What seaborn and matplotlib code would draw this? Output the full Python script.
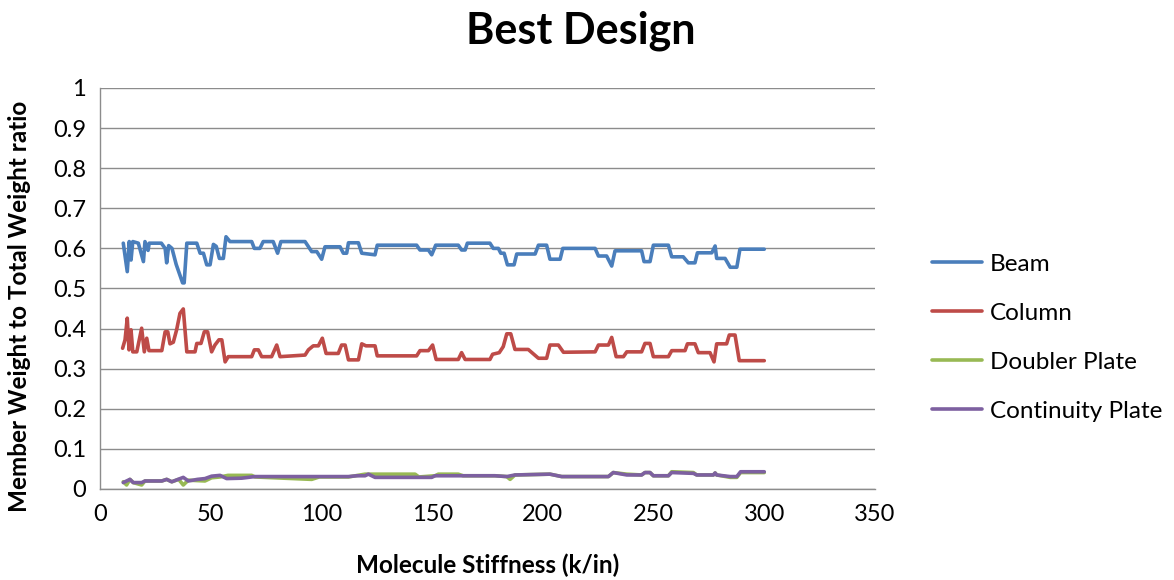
import pandas as pd
import numpy as np
import matplotlib
matplotlib.use("Agg")
import matplotlib.pyplot as plt
import seaborn as sns

# values
beam_x = [10.5, 12.3, 13.2, 14.0, 14.8, 17.3, 19.6, 20.3, 21.7, 22.2,
          27.7, 29.4, 30.1, 31.0, 32.5, 34.4, 37.3, 38.0, 39.2, 43.7,
          45.2, 46.7, 48.2, 49.7, 51.2, 52.5, 53.9, 55.7, 56.9, 58.7,
          68.5, 69.7, 72.2, 73.7, 78.2, 80.2, 81.7, 92.6, 95.6, 97.9,
          100.1, 101.6, 108.4, 109.9, 111.4, 112.2, 116.7, 118.2, 124.2, 125.2,
          143.0, 144.5, 148.3, 149.8, 151.6, 161.8, 163.3, 164.9, 165.9, 176.1,
          177.6, 179.9, 181.0, 182.5, 184.0, 187.0, 188.2, 196.5, 198.0, 201.7,
          203.2, 207.8, 209.0, 223.6, 225.1, 228.8, 231.1, 232.6, 244.6, 245.7,
          248.4, 249.9, 256.7, 258.2, 263.4, 265.7, 268.7, 269.8, 276.3, 277.8,
          278.5, 282.3, 284.6, 287.6, 289.0, 300.0]
beam_y = [0.613, 0.542, 0.617, 0.571, 0.617, 0.613, 0.567, 0.617, 0.595, 0.613,
          0.613, 0.600, 0.564, 0.607, 0.600, 0.560, 0.514, 0.514, 0.613, 0.613,
          0.588, 0.588, 0.559, 0.559, 0.610, 0.605, 0.575, 0.575, 0.629, 0.617,
          0.617, 0.600, 0.600, 0.617, 0.617, 0.588, 0.617, 0.617, 0.592, 0.592,
          0.573, 0.604, 0.604, 0.588, 0.588, 0.614, 0.614, 0.588, 0.584, 0.608,
          0.608, 0.596, 0.596, 0.584, 0.608, 0.608, 0.596, 0.596, 0.613, 0.613,
          0.600, 0.600, 0.588, 0.588, 0.559, 0.559, 0.586, 0.586, 0.608, 0.608,
          0.573, 0.573, 0.600, 0.600, 0.581, 0.581, 0.556, 0.594, 0.594, 0.567,
          0.567, 0.608, 0.608, 0.579, 0.579, 0.564, 0.564, 0.589, 0.589, 0.606,
          0.575, 0.575, 0.553, 0.553, 0.598, 0.598]

column_x = [10.2, 11.3, 12.3, 13.1, 14.0, 14.8, 16.6, 18.8, 20.0, 21.1,
            22.1, 27.9, 29.4, 30.6, 31.6, 33.1, 34.6, 36.1, 37.6, 39.2,
            42.9, 43.7, 45.6, 47.1, 48.6, 50.4, 51.9, 53.7, 55.0, 56.5,
            57.9, 68.5, 69.7, 71.5, 73.0, 77.5, 79.8, 81.3, 92.6, 94.1,
            96.3, 98.6, 100.4, 102.1, 107.6, 109.1, 110.7, 112.2, 116.7, 118.2,
            120.1, 124.2, 125.2, 143.0, 144.5, 148.3, 150.2, 151.8, 161.8, 163.3,
            164.9, 176.1, 177.3, 180.3, 182.1, 183.7, 185.5, 187.4, 193.4, 198.0,
            201.7, 203.2, 207.0, 209.3, 223.6, 225.1, 229.6, 231.1, 233.1, 236.4,
            237.9, 244.6, 246.1, 248.4, 249.9, 256.7, 258.2, 264.2, 265.3, 268.7,
            270.2, 275.5, 277.3, 278.5, 283.0, 284.2, 286.8, 288.7, 300.0]
column_y = [0.351, 0.372, 0.426, 0.347, 0.397, 0.342, 0.342, 0.401, 0.342, 0.376,
            0.345, 0.345, 0.392, 0.392, 0.362, 0.366, 0.397, 0.438, 0.449, 0.342,
            0.342, 0.363, 0.363, 0.392, 0.392, 0.342, 0.359, 0.372, 0.372, 0.317,
            0.330, 0.330, 0.347, 0.347, 0.330, 0.330, 0.359, 0.330, 0.334, 0.347,
            0.357, 0.357, 0.376, 0.338, 0.338, 0.359, 0.359, 0.322, 0.322, 0.362,
            0.357, 0.357, 0.332, 0.332, 0.345, 0.345, 0.359, 0.323, 0.323, 0.340,
            0.323, 0.323, 0.336, 0.340, 0.355, 0.387, 0.387, 0.348, 0.348, 0.326,
            0.326, 0.359, 0.359, 0.341, 0.342, 0.359, 0.359, 0.378, 0.330, 0.330,
            0.342, 0.342, 0.363, 0.363, 0.330, 0.330, 0.345, 0.345, 0.362, 0.362,
            0.340, 0.340, 0.317, 0.362, 0.362, 0.384, 0.384, 0.320, 0.320]

doubler_x = [10.5, 12.0, 13.5, 15.0, 18.8, 20.3, 27.9, 30.1, 32.4, 35.5,
             37.6, 39.9, 47.4, 50.4, 54.2, 57.8, 68.5, 70.0, 95.6, 99.0,
             112.2, 119.7, 142.3, 144.0, 151.3, 152.8, 161.8, 164.0, 178.4, 183.7,
             185.2, 187.4, 203.2, 208.5, 229.6, 231.8, 237.9, 244.6, 246.1, 248.4,
             249.9, 256.7, 258.2, 268.0, 269.5, 277.0, 277.8, 278.5, 284.6, 287.6,
             289.3, 300.0]
doubler_y = [0.018, 0.010, 0.024, 0.016, 0.010, 0.020, 0.020, 0.024, 0.018, 0.024,
             0.010, 0.022, 0.020, 0.028, 0.030, 0.034, 0.034, 0.030, 0.024, 0.030,
             0.030, 0.037, 0.037, 0.030, 0.033, 0.037, 0.037, 0.033, 0.033, 0.031,
             0.024, 0.035, 0.037, 0.031, 0.031, 0.041, 0.037, 0.035, 0.041, 0.041,
             0.033, 0.033, 0.043, 0.041, 0.035, 0.035, 0.040, 0.035, 0.029, 0.029,
             0.041, 0.041]

continuity_x = [10.5, 13.5, 15.0, 18.8, 20.3, 27.9, 30.1, 32.4, 37.6, 39.9,
                44.0, 47.4, 50.4, 54.2, 57.2, 64.0, 70.0, 95.6, 112.2, 116.0,
                119.7, 121.2, 124.2, 149.8, 151.3, 178.4, 183.7, 187.4, 203.2, 208.5,
                229.6, 231.8, 237.9, 244.6, 246.1, 248.4, 249.9, 256.7, 258.2, 268.0,
                269.5, 277.0, 277.8, 278.5, 284.6, 287.6, 289.3, 300.0]
continuity_y = [0.016, 0.024, 0.016, 0.016, 0.020, 0.020, 0.024, 0.018, 0.029, 0.020,
                0.024, 0.026, 0.032, 0.034, 0.026, 0.027, 0.031, 0.031, 0.031, 0.033,
                0.033, 0.037, 0.029, 0.029, 0.033, 0.033, 0.031, 0.035, 0.037, 0.031,
                0.031, 0.041, 0.035, 0.035, 0.041, 0.041, 0.033, 0.033, 0.041, 0.039,
                0.035, 0.035, 0.040, 0.035, 0.031, 0.031, 0.043, 0.043]

series = ["Beam", "Column", "Doubler Plate", "Continuity Plate"]
colors = ["#4A7EBB", "#BE4B48", "#98B954", "#7D60A0"]

frames = []
for name, xs, ys in zip(series,
                        [beam_x, column_x, doubler_x, continuity_x],
                        [beam_y, column_y, doubler_y, continuity_y]):
    frames.append(pd.DataFrame({"x": xs, "y": ys, "Member": name}))
df = pd.concat(frames, ignore_index=True)

sns.set_style("white")
plt.rcParams["font.family"] = ["Lato", "DejaVu Sans"]
plt.rcParams["text.color"] = "black"
plt.rcParams["axes.labelcolor"] = "black"

fig = plt.figure(figsize=(11.74, 5.8), dpi=100)
ax = fig.add_axes([0.0852, 0.1569, 0.6601, 0.6914])

sns.lineplot(data=df, x="x", y="y", hue="Member", palette=colors,
             hue_order=series, sort=False, estimator=None, linewidth=2.6, ax=ax)

ax.set_xlim(0, 350)
ax.set_ylim(0, 1)
ax.set_xticks(np.arange(0, 351, 50))
yt = np.round(np.arange(0, 1.01, 0.1), 1)
ax.set_yticks(yt)
ax.set_yticklabels([f"{v:g}" for v in yt])
ax.yaxis.grid(True, color="#8c8c8c", linewidth=1.0)
ax.set_axisbelow(True)
for s in ["top", "right"]:
    ax.spines[s].set_visible(False)
for s in ["left", "bottom"]:
    ax.spines[s].set_color("#8c8c8c")
    ax.spines[s].set_linewidth(1.0)
ax.tick_params(axis="both", which="major", length=6, width=1.0, color="#8c8c8c",
               labelcolor="black", labelsize=17, direction="out", pad=4)
ax.tick_params(axis="x", pad=5)

ax.set_xlabel("Molecule Stiffness (k/in)", fontsize=17.5, fontweight="bold")
ax.set_ylabel("Member Weight to Total Weight ratio", fontsize=17.5, fontweight="bold")
ax.xaxis.set_label_coords(0.5, -0.162)
ax.yaxis.set_label_coords(-0.089, 0.456)
fig.suptitle("Best Design", fontsize=31, fontweight="bold", x=0.495, y=0.982)

leg = ax.legend(loc="center left", bbox_to_anchor=(1.045, 0.377), frameon=False,
                fontsize=17.5, handlelength=2.05, labelspacing=1.15, handletextpad=0.33)
for line in leg.get_lines():
    line.set_linewidth(2.6)

fig.savefig("out.png", dpi=100)
